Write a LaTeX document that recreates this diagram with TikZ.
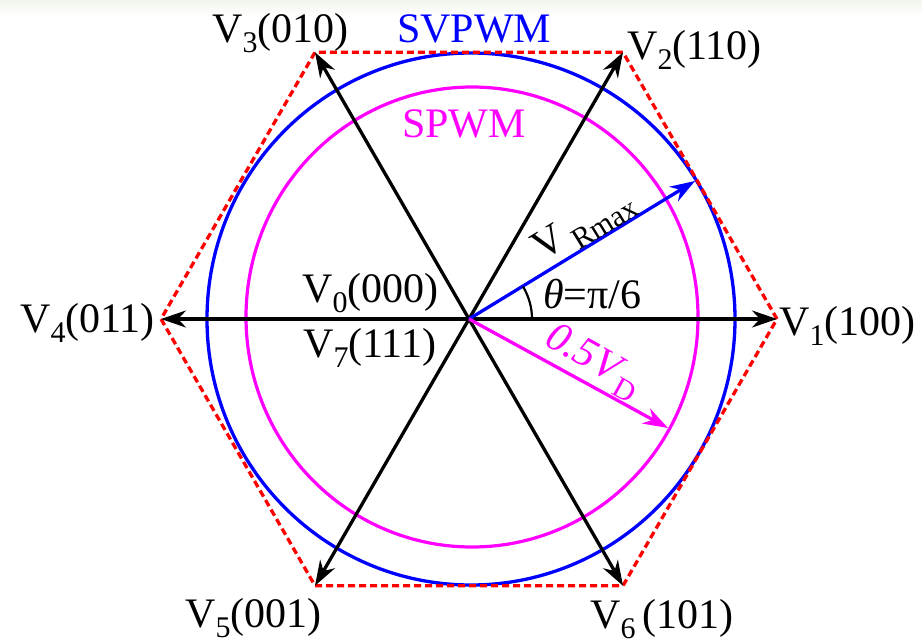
\documentclass[tikz,border=0pt]{standalone}
\usepackage{fontspec}
\setmainfont{Liberation Serif}
\newfontfamily\tnr{Liberation Serif}
\usetikzlibrary{arrows.meta,calc}
\definecolor{bandgray}{RGB}{242,245,238}
\definecolor{mag}{RGB}{255,0,255}
\definecolor{pureblue}{RGB}{0,0,255}
\definecolor{purered}{RGB}{255,0,0}
\newcommand\lowsub[1]{\raisebox{-0.24em}{\fontsize{30}{30}\selectfont #1}}
\tikzset{
  vec/.style={line width=3.3pt,-{Stealth[length=25pt,width=17pt,inset=8pt]}},
  hexline/.style={purered,line width=3.3pt,dash pattern=on 7pt off 4pt},
  lbl/.style={inner sep=0pt,font=\tnr\fontsize{42}{48}\selectfont},
  lab/.style={lbl,anchor=base west},
}
\begin{document}
\begin{tikzpicture}[x=1pt,y=-1pt]
\fill[white] (0,0) rectangle (922,638);
\useasboundingbox (0,0) rectangle (922,638);
\shade[top color=bandgray,bottom color=white] (0,0) rectangle (922,16);
\coordinate (O) at (469,319);
\coordinate (CB) at (471,319);
\coordinate (CM) at (472,317);
\coordinate (P1) at (777,319);
\coordinate (P2) at (623,52.3);
\coordinate (P3) at (315,52.3);
\coordinate (P4) at (161,319);
\coordinate (P5) at (315,585.7);
\coordinate (P6) at (623,585.7);
\coordinate (R) at (695,181);
\coordinate (D) at (668,428);
% circles
\draw[pureblue,line width=3.3pt] (CB) ellipse[x radius=264pt,y radius=266pt];
\draw[mag,line width=3.2pt] (CM) ellipse[x radius=226pt,y radius=230pt];
% hexagon
\draw[hexline] (P1) -- (P2) -- (P3) -- (P4) -- (P5) -- (P6) -- cycle;
% vectors
\foreach \p in {P1,P2,P3,P4,P5,P6}{\draw[vec] (O) -- (\p);}
\draw[vec,pureblue] (O) -- (R);
\draw[vec,mag] (O) -- (D);
% angle arc
\draw[line width=2.2pt] ($(O)+(63pt,0pt)$) arc[start angle=0,end angle=31,radius=63pt];
% labels
\node[lab] (l3) at (212,42) {V\lowsub{3}(010)};
\node[lab,pureblue] (ls) at (397,42) {SVPWM};
\node[lab] (l2) at (627,59) {V\lowsub{2}(110)};
\node[lab,mag] (lp) at (402,137) {SPWM};
\node[lab] (l0) at (302,302) {V\lowsub{0}(000)};
\node[lab] (l7) at (303,357) {V\lowsub{7}(111)};
\node[lab] (l4) at (20,332) {V\lowsub{4}(011)};
\node[lab] (l1) at (779,335) {V\lowsub{1}(100)};
\node[lab] (l5) at (185,627) {V\lowsub{5}(001)};
\node[lab] (l6) at (590,628) {V\lowsub{6}\,(101)};
\node[lab] (lt) at (543,308) {\textit{θ}=π/6};
\node[lbl,rotate=31.6] (lr) at (584,226) {V\,\lowsub{Rmax}};
\node[lbl,rotate=-29,mag] (ld) at (593,362) {\textit{0.5V}\lowsub{D}};
\end{tikzpicture}
\end{document}
